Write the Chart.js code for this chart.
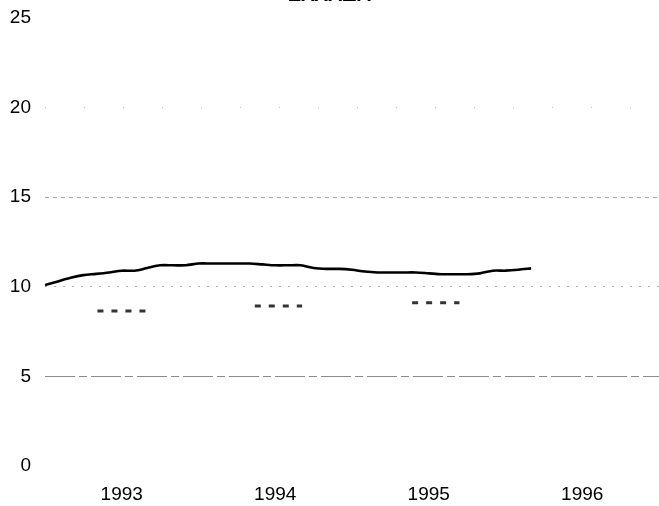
<!DOCTYPE html>
<html>
<head>
<meta charset="utf-8">
<script src="https://cdn.jsdelivr.net/npm/chart.js@4/dist/chart.umd.min.js"></script>
<style>
  html, body { margin: 0; padding: 0; background: #fff; }
  #wrap { position: relative; width: 659px; height: 506px; overflow: hidden; }
  #c { position: absolute; left: 0; top: -17px; }
</style>
</head>
<body>
<div id="wrap"><canvas id="c" width="659" height="523"></canvas></div>
<script>
// ---- Data ----
const title = "ΕΛΛΑΔΑ";
const yearLabels = ["1993", "1994", "1995", "1996"];
// month index (0 = January 1993)
const months = [0,1,2,3,4,5,6,7,8,9,10,11,12,13,14,15,16,17,18,19,20,21,22,23,24,25,26,27,28,29,30,31,32,33,34,35,36,37,38];
const actual = [10.1,10.3,10.5,10.65,10.72,10.8,10.9,10.9,11.05,11.2,11.2,11.2,11.3,11.3,11.3,11.3,11.3,11.25,11.2,11.2,11.2,11.05,11.0,11.0,10.95,10.85,10.8,10.8,10.8,10.8,10.75,10.7,10.7,10.7,10.75,10.9,10.9,10.95,11.03];
// short dashed segments (one per year)
const segStart = [4.1, 16.4, 28.7];
const segEnd = [7.9, 20.1, 32.4];
const segValues = [8.65, 8.93, 9.11];
const yTicks = [0, 5, 10, 15, 20, 25];

const mainData = months.map((m, i) => ({ x: m, y: actual[i] }));
const segData = [];
segValues.forEach((v, i) => {
  segData.push({ x: segStart[i], y: v });
  segData.push({ x: segEnd[i], y: v });
  if (i < segValues.length - 1) segData.push({ x: (segEnd[i] + segStart[i + 1]) / 2, y: null });
});

const font = { family: "'Liberation Sans', Arial, sans-serif", size: 19 };

new Chart(document.getElementById('c'), {
  type: 'line',
  data: {
    datasets: [
      {
        data: mainData,
        borderColor: '#000',
        borderWidth: 2.6,
        pointRadius: 0,
        tension: 0.3,
        fill: false
      },
      {
        data: segData,
        borderColor: '#333',
        borderWidth: 3,
        borderDash: [6, 8],
        pointRadius: 0,
        spanGaps: false,
        fill: false
      }
    ]
  },
  options: {
    responsive: false,
    animation: false,
    layout: { padding: { left: 0, right: 0, top: 0, bottom: 0 } },
    plugins: {
      legend: { display: false },
      tooltip: { enabled: false },
      title: {
        display: true,
        text: title,
        color: '#000',
        font: { family: "'Liberation Sans', Arial, sans-serif", size: 20, weight: 'bold' },
        padding: { top: 0, bottom: 11 }
      }
    },
    scales: {
      x: {
        type: 'linear',
        min: 0,
        max: 48,
        grid: { display: false, drawTicks: false },
        border: { display: false },
        afterBuildTicks: (axis) => {
          axis.ticks = yearLabels.map((_, i) => ({ value: 6 + 12 * i }));
        },
        afterFit: (axis) => { axis.height = 40; },
        ticks: {
          padding: 17,
          color: '#000',
          font: font,
          maxRotation: 0,
          autoSkip: false,
          callback: (v) => yearLabels[Math.round((v - 6) / 12)]
        }
      },
      y: {
        min: 0,
        max: 25,
        afterFit: (axis) => { axis.width = 45; },
        afterBuildTicks: (axis) => { axis.ticks = yTicks.map(v => ({ value: v })); },
        grid: {
          drawTicks: false,
          lineWidth: 1,
          color: (ctx) => {
            const v = ctx.tick && ctx.tick.value;
            if (v === 5) return 'rgba(100,100,100,0.75)';
            if (v === 10) return 'rgba(140,140,140,0.7)';
            if (v === 15) return 'rgba(120,120,120,0.7)';
            if (v === 20) return 'rgba(150,150,150,0.6)';
            return 'rgba(0,0,0,0)';
          }
        },
        border: {
          display: false,
          dash: (ctx) => {
            const v = ctx.tick && ctx.tick.value;
            if (v === 5) return [30, 4, 8, 4];
            if (v === 10) return [2, 7];
            if (v === 15) return [4, 4];
            if (v === 20) return [1, 38];
            return [];
          }
        },
        ticks: {
          padding: 14,
          color: '#000',
          font: font
        }
      }
    }
  }
});
</script>
</body>
</html>
